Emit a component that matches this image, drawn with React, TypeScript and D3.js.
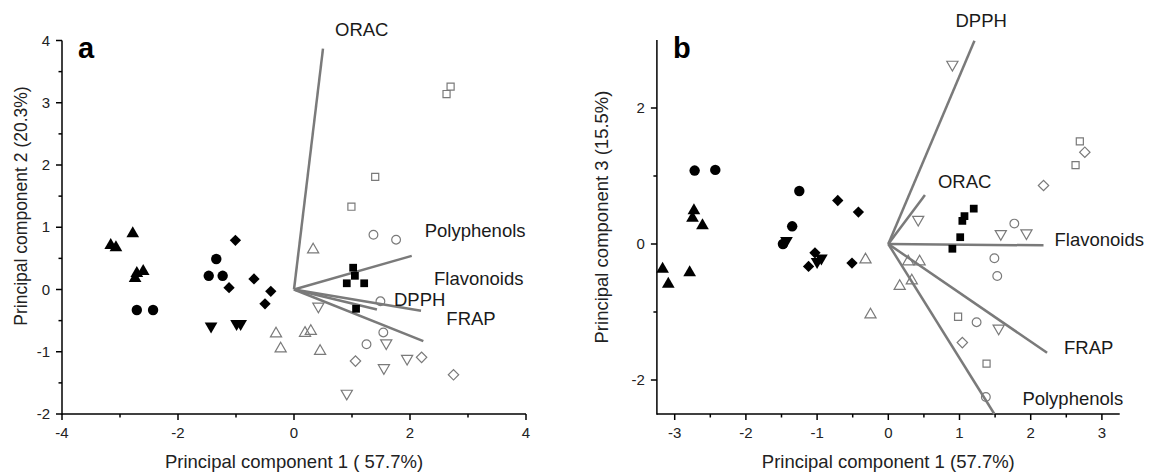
import React from 'react'
import * as d3 from 'd3'

type Pt = [number, number]

// ---- panel a : PC1 vs PC2 ----
const aTriUp: Pt[] = [[-2.78, 0.9], [-3.16, 0.71], [-3.07, 0.675], [-2.6, 0.29], [-2.71, 0.26], [-2.74, 0.18]]
const aCircle: Pt[] = [[-2.71, -0.33], [-2.43, -0.33], [-1.34, 0.49], [-1.47, 0.22], [-1.23, 0.22]]
const aDiamond: Pt[] = [[-1.01, 0.79], [-1.12, 0.03], [-0.69, 0.17], [-0.4, -0.03], [-0.5, -0.23]]
const aTriDown: Pt[] = [[-1.43, -0.59], [-0.99, -0.55], [-0.92, -0.55]]
const aSquare: Pt[] = [[1.02, 0.35], [1.05, 0.22], [0.91, 0.1], [1.21, 0.1], [1.07, -0.31]]
const aOpenTriUp: Pt[] = [[-0.31, -0.71], [-0.23, -0.95], [0.33, 0.64], [0.19, -0.7], [0.29, -0.67], [0.45, -0.99]]
const aOpenTriDown: Pt[] = [[0.42, -0.27], [1.59, -0.86], [1.55, -1.26], [1.95, -1.11], [0.91, -1.67]]
const aOpenCircle: Pt[] = [[1.37, 0.88], [1.76, 0.8], [1.49, -0.19], [1.54, -0.69], [1.25, -0.88]]
const aOpenDiamond: Pt[] = [[1.06, -1.15], [2.2, -1.09], [2.75, -1.37]]
const aOpenSquare: Pt[] = [[2.7, 3.26], [2.63, 3.14], [1.4, 1.81], [0.99, 1.33]]

const aVectorNames = ['ORAC', 'Polyphenols', 'Flavonoids', 'DPPH', 'FRAP']
const aVectors: Pt[] = [[0.5, 3.87], [2.03, 0.54], [2.19, -0.34], [1.43, -0.32], [2.23, -0.83]]

// ---- panel b : PC1 vs PC3 ----
const bTriUp: Pt[] = [[-2.73, 0.49], [-2.75, 0.38], [-2.61, 0.27], [-3.17, -0.37], [-3.09, -0.59], [-2.79, -0.42]]
const bCircle: Pt[] = [[-2.72, 1.08], [-2.43, 1.09], [-1.25, 0.78], [-1.35, 0.26], [-1.48, 0.0]]
const bDiamond: Pt[] = [[-0.71, 0.64], [-0.42, 0.47], [-1.03, -0.13], [-1.12, -0.33], [-0.51, -0.28]]
const bTriDown: Pt[] = [[-1.43, 0.05], [-0.94, -0.21], [-1.0, -0.26]]
const bSquare: Pt[] = [[1.2, 0.52], [1.07, 0.41], [1.04, 0.34], [1.01, 0.1], [0.9, -0.07]]
const bOpenTriUp: Pt[] = [[-0.32, -0.23], [-0.25, -1.04], [0.28, -0.26], [0.44, -0.26], [0.16, -0.62], [0.33, -0.54]]
const bOpenTriDown: Pt[] = [[0.9, 2.64], [0.42, 0.36], [1.58, 0.15], [1.94, 0.16], [1.55, -1.24]]
const bOpenCircle: Pt[] = [[1.77, 0.3], [1.49, -0.21], [1.53, -0.47], [1.24, -1.15], [1.37, -2.25]]
const bOpenDiamond: Pt[] = [[2.76, 1.35], [2.18, 0.86], [1.04, -1.45]]
const bOpenSquare: Pt[] = [[2.69, 1.51], [2.63, 1.16], [0.98, -1.07], [1.38, -1.76]]

const bVectorNames = ['DPPH', 'ORAC', 'Flavonoids', 'FRAP', 'Polyphenols']
const bVectors: Pt[] = [[1.21, 2.99], [0.515, 0.72], [2.18, -0.02], [2.23, -1.6], [1.49, -2.5]]

// ticks
const aXTicks = [-4, -2, 0, 2, 4]
const aXMinor = [-3, -1, 1, 3]
const aYTicks = [-2, -1, 0, 1, 2, 3, 4]
const aYMinor = [-1.5, -0.5, 0.5, 1.5, 2.5, 3.5]
const bXTicks = [-3, -2, -1, 0, 1, 2, 3]
const bXMinor = [-2.5, -1.5, -0.5, 0.5, 1.5, 2.5]
const bYTicks = [-2, 0, 2]
const bYMinor = [-1, 1]

const FONT = '"Liberation Sans", Arial, Helvetica, sans-serif'
const GRAY = '#7a7a7a'

type Kind = 'triUp' | 'triDown' | 'circle' | 'diamond' | 'square'
const sym = (k: Kind, size: number) => {
  const t = k === 'circle' ? d3.symbolCircle : k === 'square' || k === 'diamond' ? d3.symbolSquare : d3.symbolTriangle
  return d3.symbol().type(t).size(size)() as string
}
const rot = (k: Kind) => (k === 'triDown' ? 180 : k === 'diamond' ? 45 : 0)

type Series = { pts: Pt[]; kind: Kind; open: boolean; size: number }

type PanelProps = {
  letter: string
  xDomain: [number, number]
  xRange: [number, number]
  yDomain: [number, number]
  yRange: [number, number]
  xTicks: number[]
  xMinor: number[]
  yTicks: number[]
  yMinor: number[]
  xTitle: string
  yTitle: string
  yTitleX: number
  yTitleY: number
  yTitleSize: number
  series: Series[]
  names: string[]
  vectors: Pt[]
  labelOff: Pt[]
}

const Panel = (p: PanelProps) => {
  const x = d3.scaleLinear().domain(p.xDomain).range(p.xRange)
  const y = d3.scaleLinear().domain(p.yDomain).range(p.yRange)
  const y0 = p.yRange[0]
  const x0 = p.xRange[0]
  return (
    <g>
      {/* axes */}
      <line x1={x0} x2={p.xRange[1]} y1={y0} y2={y0} stroke="#000" strokeWidth={1.5} />
      <line x1={x0} x2={x0} y1={y0 + 0.75} y2={p.yRange[1]} stroke="#000" strokeWidth={1.5} />
      {p.xTicks.map(t => (
        <g key={'xt' + t}>
          <line x1={x(t)} x2={x(t)} y1={y0} y2={y0 + 6} stroke="#000" strokeWidth={1.5} />
          <text x={x(t)} y={y0 + 24} textAnchor="middle" fontSize={15} fontFamily={FONT} fill="#222">{t}</text>
        </g>
      ))}
      {p.xMinor.map(t => (
        <line key={'xm' + t} x1={x(t)} x2={x(t)} y1={y0} y2={y0 + 3.5} stroke="#000" strokeWidth={1.5} />
      ))}
      {p.yTicks.map(t => (
        <g key={'yt' + t}>
          <line x1={x0 - 6} x2={x0} y1={y(t)} y2={y(t)} stroke="#000" strokeWidth={1.5} />
          <text x={x0 - 12} y={y(t) + 5} textAnchor="end" fontSize={15} fontFamily={FONT} fill="#222">{t}</text>
        </g>
      ))}
      {p.yMinor.map(t => (
        <line key={'ym' + t} x1={x0 - 3.5} x2={x0} y1={y(t)} y2={y(t)} stroke="#000" strokeWidth={1.5} />
      ))}
      <text x={x(0)} y={468} textAnchor="middle" fontSize={18.5} fontFamily={FONT} fill="#222">{p.xTitle}</text>
      <text transform={`translate(${p.yTitleX},${p.yTitleY}) rotate(-90)`} textAnchor="middle" fontSize={p.yTitleSize} fontFamily={FONT} fill="#222">{p.yTitle}</text>
      <text x={x0 + 16} y={58} fontSize={29} fontWeight="bold" fontFamily={FONT} fill="#000">{p.letter}</text>

      {/* loading vectors */}
      {p.vectors.map((v, i) => (
        <g key={'v' + i}>
          <line x1={x(0)} y1={y(0)} x2={x(v[0])} y2={y(v[1])} stroke={GRAY} strokeWidth={2.5} />
          <text x={x(v[0]) + p.labelOff[i][0]} y={y(v[1]) + p.labelOff[i][1]} fontSize={18.5} fontFamily={FONT} fill="#1a1a1a">{p.names[i]}</text>
        </g>
      ))}

      {/* scores */}
      {p.series.map((s, si) =>
        s.pts.map((d, i) => (
          <path
            key={si + '-' + i}
            d={sym(s.kind, s.size)}
            transform={`translate(${x(d[0])},${y(d[1])}) rotate(${rot(s.kind)})`}
            fill={s.open ? 'none' : '#000'}
            stroke={s.open ? GRAY : 'none'}
            strokeWidth={1.2}
          />
        ))
      )}
    </g>
  )
}

const seriesOf = (
  triUp: Pt[], circle: Pt[], diamond: Pt[], triDown: Pt[], square: Pt[],
  oTriUp: Pt[], oTriDown: Pt[], oCircle: Pt[], oDiamond: Pt[], oSquare: Pt[]
): Series[] => [
  { pts: triUp, kind: 'triUp', open: false, size: 70 },
  { pts: circle, kind: 'circle', open: false, size: 85 },
  { pts: diamond, kind: 'diamond', open: false, size: 64 },
  { pts: triDown, kind: 'triDown', open: false, size: 70 },
  { pts: square, kind: 'square', open: false, size: 60 },
  { pts: oTriUp, kind: 'triUp', open: true, size: 54 },
  { pts: oTriDown, kind: 'triDown', open: true, size: 54 },
  { pts: oCircle, kind: 'circle', open: true, size: 60 },
  { pts: oDiamond, kind: 'diamond', open: true, size: 54 },
  { pts: oSquare, kind: 'square', open: true, size: 50 },
]

export default function App() {
  return (
    <svg width={1151} height={473} style={{ position: 'absolute', left: 0, top: 0, background: '#fff' }}>
      <rect width={1151} height={473} fill="#fff" />
      <Panel
        letter="a"
        xDomain={[-4, 4]}
        xRange={[62, 526]}
        yDomain={[-2, 4]}
        yRange={[414, 40.5]}
        xTicks={aXTicks}
        xMinor={aXMinor}
        yTicks={aYTicks}
        yMinor={aYMinor}
        xTitle="Principal component 1 ( 57.7%)"
        yTitle="Principal component 2 (20.3%)"
        yTitleX={27}
        yTitleY={206}
        yTitleSize={17.5}
        series={seriesOf(aTriUp, aCircle, aDiamond, aTriDown, aSquare, aOpenTriUp, aOpenTriDown, aOpenCircle, aOpenDiamond, aOpenSquare)}
        names={aVectorNames}
        vectors={aVectors}
        labelOff={[[12, -13], [13, -19], [13, -26], [17, -3], [23, -16]]}
      />
      <Panel
        letter="b"
        xDomain={[-3.25, 3.25]}
        xRange={[656.9, 1119.7]}
        yDomain={[-2.5, 3]}
        yRange={[414, 40]}
        xTicks={bXTicks}
        xMinor={bXMinor}
        yTicks={bYTicks}
        yMinor={bYMinor}
        xTitle="Principal component 1 (57.7%)"
        yTitle="Principal component 3 (15.5%)"
        yTitleX={608}
        yTitleY={217}
        yTitleSize={18.5}
        series={seriesOf(bTriUp, bCircle, bDiamond, bTriDown, bSquare, bOpenTriUp, bOpenTriDown, bOpenCircle, bOpenDiamond, bOpenSquare)}
        names={bVectorNames}
        vectors={bVectors}
        labelOff={[[-19, -14], [13, -7], [11, 1], [17, 1], [28, -9]]}
      />
    </svg>
  )
}
